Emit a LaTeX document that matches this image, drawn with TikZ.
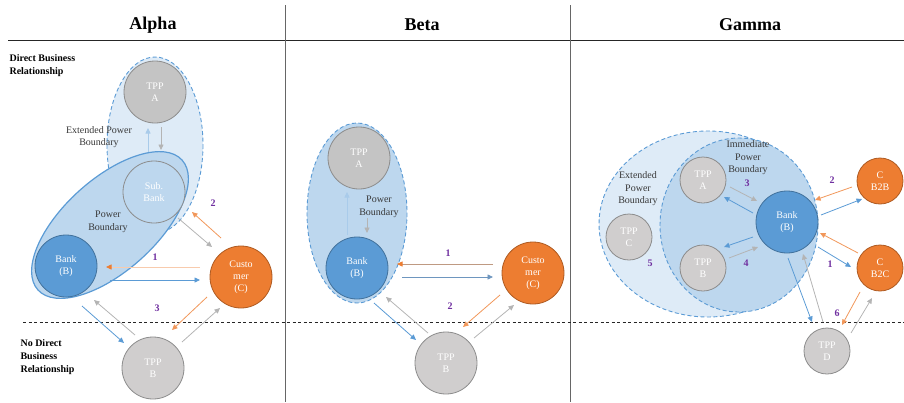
\documentclass[tikz,border=0pt]{standalone}
\usepackage{fontspec}
\setmainfont{Liberation Serif}
\usetikzlibrary{calc,arrows.meta}
\definecolor{bluefill}{HTML}{BDD7EE}
\definecolor{lightfill}{HTML}{DEEBF7}
\definecolor{bankblue}{HTML}{5B9BD5}
\definecolor{bankborder}{HTML}{41719C}
\definecolor{orng}{HTML}{ED7D31}
\definecolor{orngborder}{HTML}{AE5A21}
\definecolor{peach}{HTML}{F8CBAD}
\definecolor{tppgray}{HTML}{D0CECE}
\definecolor{tppgrayA}{HTML}{C4C4C4}
\definecolor{tppborder}{HTML}{8C8C8C}
\definecolor{arrgray}{HTML}{B4B4B4}
\definecolor{numpurple}{HTML}{7030A0}
\definecolor{lightarr}{HTML}{A9CBEA}
\definecolor{brownarr}{HTML}{BF9A82}
\definecolor{steelarr}{HTML}{6E96BF}
\begin{document}
\begin{tikzpicture}[x=1pt,y=-1pt,
  circ/.style={circle, minimum size=62, inner sep=0, align=center, text=white,
    font=\fontsize{10}{12}\selectfont, line width=0.8},
  bankn/.style={circ, fill=bankblue, draw=bankborder},
  custn/.style={circ, fill=orng, draw=orngborder},
  tppn/.style={circ, fill=tppgray, draw=tppborder},
  tppan/.style={circ, fill=tppgrayA, draw=tppborder},
  sbankn/.style={circ, fill=bluefill, draw=tppborder},
  smalln/.style={minimum size=46},
  num/.style={text=numpurple, font=\bfseries\fontsize{10}{12}\selectfont},
  lbl/.style={align=center, text=black!78, font=\fontsize{10}{12.5}\selectfont},
  side/.style={align=left, anchor=north west, font=\bfseries\fontsize{10}{13}\selectfont},
  title/.style={font=\bfseries\fontsize{18}{20}\selectfont},
  arr/.style={-{Triangle[length=5.5pt,width=5pt]}, line width=0.8},
  ablue/.style={arr, draw=bankblue},
  agray/.style={arr, draw=arrgray},
  aorng/.style={arr, draw=orng!80},
  alight/.style={arr, draw=lightarr},
  apeach/.style={-{Triangle[length=5.5pt,width=5pt,color=orng]}, line width=0.8, draw=peach},
  abrown/.style={-{Triangle[length=5.5pt,width=5pt,color=orng]}, line width=0.8, draw=brownarr},
  asteel/.style={arr, draw=steelarr},
  dashbound/.style={draw=bankblue, dashed, dash pattern=on 4pt off 2.5pt, line width=0.9},
  frame/.style={draw=black!85, line width=0.8}
]
\useasboundingbox (0,0) rectangle (904,402);

% frame lines
\draw[frame] (8,40) -- (904,40);
\draw[frame, draw=black!60] (285,5) -- (285,402);
\draw[frame, draw=black!60] (570,5) -- (570,402);
\draw[black!85, dashed, dash pattern=on 3pt off 2.5pt, line width=0.8] (23,322) -- (904,322);

% titles
\node[title] (tA) at (153,25) {Alpha};
\node[title] (tB) at (422,25) {Beta};
\node[title] (tG) at (750,25) {Gamma};

\node[side] (direct) at (6,51) {Direct Business\\Relationship};
\node[side] (nodirect) at (17,336) {No Direct\\Business\\Relationship};

%%%%%%%%%% ALPHA
\fill[lightfill] (155,145) ellipse [x radius=48, y radius=88];
\draw[dashbound] (155,145) ellipse [x radius=48, y radius=88];
\node[tppan] (tppAa) at (155,92) {TPP\\A};
\draw[fill=bluefill, draw=bankblue, line width=1.2, rotate around={42:(110,225)}]
  (110,225) ellipse [x radius=97, y radius=46];
\node[sbankn] (sbA) at (154,192) {Sub.\\Bank};
\node[bankn] (bankA) at (66,266) {Bank\\(B)};
\node[custn] (custA) at (241,277) {Custo\\mer\\(C)};
\node[tppn] (tppBa) at (153,368) {TPP\\B};
\node[lbl] (extA) at (99,137) {Extended Power\\Boundary};
\node[lbl] (powA) at (108,222) {Power\\Boundary};

\draw[alight] ($(sbA)+(-6,-40)$) -- ($(tppAa)+(-7,36)$);
\draw[agray] ($(tppAa)+(6,35)$) -- ($(sbA)+(7,-42)$);
\draw[agray] ($(sbA)+(24,26)$) -- ($(custA)+(-29,-30)$);
\draw[aorng] ($(custA)+(-20,-39)$) -- ($(sbA)+(38,20)$);
\draw[apeach] ($(custA)+(-41,-10)$) -- ($(bankA)+(40,1)$);
\draw[ablue] ($(bankA)+(44,14)$) -- ($(custA)+(-41,3)$);
\draw[ablue] ($(bankA)+(16,40)$) -- ($(tppBa)+(-29,-25)$);
\draw[agray] ($(tppBa)+(-18,-33)$) -- ($(bankA)+(28,34)$);
\draw[aorng] ($(custA)+(-34,20)$) -- ($(tppBa)+(19,-38)$);
\draw[agray] ($(tppBa)+(29,-26)$) -- ($(custA)+(-21,31)$);
\node[num] (nA2) at (213,203) {2};
\node[num] (nA1) at (155,257) {1};
\node[num] (nA3) at (157,308) {3};

%%%%%%%%%% BETA
\fill[bluefill] (357,213) ellipse [x radius=50, y radius=90];
\draw[dashbound] (357,213) ellipse [x radius=50, y radius=90];
\node[tppan] (tppAb) at (359,158) {TPP\\A};
\node[bankn] (bankB) at (357,268) {Bank\\(B)};
\node[custn] (custB) at (533,273) {Custo\\mer\\(C)};
\node[tppn] (tppBb) at (446,363) {TPP\\B};
\node[lbl] (powB) at (379,207) {Power\\Boundary};

\draw[alight] ($(bankB)+(-10,-33)$) -- ($(tppAb)+(-12,34)$);
\draw[agray] ($(tppAb)+(8,60)$) -- ($(bankB)+(10,-35)$);
\draw[abrown] ($(custB)+(-40,-9)$) -- ($(bankB)+(40,-4)$);
\draw[asteel] ($(bankB)+(45,9)$) -- ($(custB)+(-40,4)$);
\draw[ablue] ($(bankB)+(17,35)$) -- ($(tppBb)+(-30,-23)$);
\draw[agray] ($(tppBb)+(-18,-30)$) -- ($(bankB)+(29,29)$);
\draw[aorng] ($(custB)+(-33,22)$) -- ($(tppBb)+(17,-36)$);
\draw[agray] ($(tppBb)+(28,-25)$) -- ($(custB)+(-19,32)$);
\node[num] (nB1) at (448,253) {1};
\node[num] (nB2) at (450,306) {2};

%%%%%%%%%% GAMMA
\fill[lightfill] (708,224) ellipse [x radius=109, y radius=93];
\draw[dashbound] (708,224) ellipse [x radius=109, y radius=93];
\fill[bluefill] (739,225) ellipse [x radius=79, y radius=87];
\draw[dashbound] (739,225) ellipse [x radius=79, y radius=87];
\node[bankn] (bankG) at (787,222) {Bank\\(B)};
\node[tppn, smalln] (tpA) at (703,180) {TPP\\A};
\node[tppn, smalln] (tpB) at (703,268) {TPP\\B};
\node[tppn, smalln] (tpC) at (629,237) {TPP\\C};
\node[tppn, smalln] (tpD) at (827,351) {TPP\\D};
\node[custn, smalln] (cb2b) at (880,181) {C\\B2B};
\node[custn, smalln] (cb2c) at (880,268) {C\\B2C};
\node[lbl] (immG) at (748,158) {Immediate\\Power\\Boundary};
\node[lbl] (extG) at (638,189) {Extended\\Power\\Boundary};

\draw[agray] ($(tpA)+(27,7)$) -- ($(bankG)+(-30,-21)$);
\draw[ablue] ($(bankG)+(-34,-9)$) -- ($(tpA)+(21,17)$);
\draw[ablue] ($(bankG)+(-34,15)$) -- ($(tpB)+(21,-21)$);
\draw[agray] ($(tpB)+(26,-10)$) -- ($(bankG)+(-29,25)$);
\draw[aorng] ($(cb2b)+(-28,6)$) -- ($(bankG)+(28,-22)$);
\draw[ablue] ($(bankG)+(34,-7)$) -- ($(cb2b)+(-18,18)$);
\draw[aorng] ($(cb2c)+(-22,-15)$) -- ($(bankG)+(33,11)$);
\draw[ablue] ($(bankG)+(31,25)$) -- ($(cb2c)+(-29,-1)$);
\draw[ablue] ($(bankG)+(1,36)$) -- ($(tpD)+(-15,-29)$);
\draw[agray] ($(tpD)+(-4,-29)$) -- ($(bankG)+(16,32)$);
\draw[aorng] ($(cb2c)+(-20,24)$) -- ($(tpD)+(15,-26)$);
\draw[agray] ($(tpD)+(24,-18)$) -- ($(cb2c)+(-8,30)$);
\node[num] (nG3) at (747,183) {3};
\node[num] (nG4) at (746,263) {4};
\node[num] (nG5) at (650,263) {5};
\node[num] (nG2) at (832,180) {2};
\node[num] (nG1) at (830,264) {1};
\node[num] (nG6) at (837,313) {6};
\end{tikzpicture}
\end{document}
